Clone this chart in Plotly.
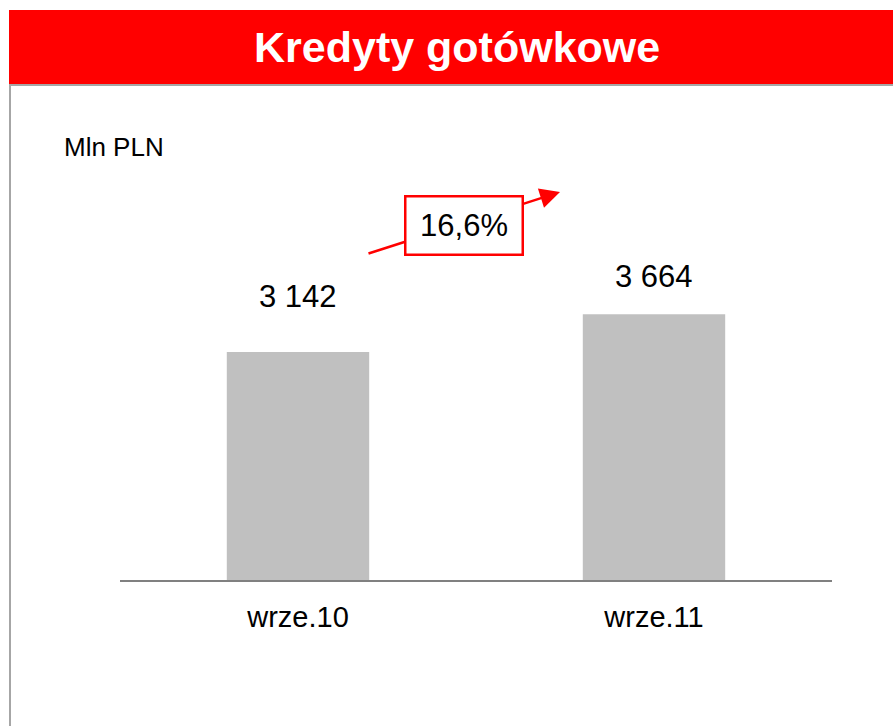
import plotly.graph_objects as go

# ---- data ----
categories = ["wrze.10", "wrze.11"]
values = [3142, 3664]
value_labels = ["3 142", "3 664"]
growth_label = "16,6%"
title_text = "Kredyty gotówkowe"
unit_text = "Mln PLN"

# ---- layout geometry (pixels) ----
W, H = 893, 726
L, R, T, B = 120, 61, 100, 146
PW, PH = W - L - R, H - T - B
FONT = "Liberation Sans, Arial, sans-serif"
label_offsets = [56, 38]  # px above bar tops


def px(x):
    return (x - L) / PW


def py(y):
    return (H - B - y) / PH


fig = go.Figure()
fig.add_trace(go.Bar(
    x=categories, y=values, marker=dict(color="#C0C0C0", line=dict(width=0)),
    width=0.4, hoverinfo="skip", showlegend=False,
))

annotations = []
# value labels
for c, v, lab, off in zip(categories, values, value_labels, label_offsets):
    annotations.append(dict(x=c, y=v, xref="x", yref="y", text=lab, showarrow=False,
                            yanchor="middle", yshift=off,
                            font=dict(family=FONT, size=31, color="#000000")))
# arrow
annotations.append(dict(x=px(560), y=py(192), xref="paper", yref="paper", text="",
                        showarrow=True, ax=367 - 560, ay=254 - 192, axref="pixel", ayref="pixel",
                        arrowhead=2, arrowsize=1.6, arrowwidth=2.5, arrowcolor="#FF0000",
                        standoff=0, startstandoff=0))
# growth box
annotations.append(dict(x=px(463.5), y=py(225), xref="paper", yref="paper", text=growth_label,
                        showarrow=False, xanchor="center", yanchor="middle",
                        width=115, height=56, borderpad=0, borderwidth=2.5,
                        bordercolor="#FF0000", bgcolor="#FFFFFF",
                        font=dict(family=FONT, size=31, color="#000000")))
# title
annotations.append(dict(x=px(457), y=py(47), xref="paper", yref="paper", text="<b>" + title_text + "</b>",
                        showarrow=False, xanchor="center", yanchor="middle",
                        font=dict(family=FONT, size=43, color="#FFFFFF")))
# unit
annotations.append(dict(x=px(62), y=py(147), xref="paper", yref="paper", text=unit_text,
                        showarrow=False, xanchor="left", yanchor="middle",
                        font=dict(family=FONT, size=26, color="#000000")))

shapes = [
    dict(type="rect", xref="paper", yref="paper", x0=px(9), x1=px(900), y0=py(84), y1=py(10),
         fillcolor="#FF0000", line=dict(width=0), layer="below"),
    dict(type="line", xref="paper", yref="paper", x0=px(9), x1=px(900), y0=py(85), y1=py(85),
         line=dict(color="#A6A6A6", width=2)),
    dict(type="line", xref="paper", yref="paper", x0=px(10), x1=px(10), y0=py(84), y1=py(730),
         line=dict(color="#A6A6A6", width=2)),
]

fig.update_layout(
    width=W, height=H, margin=dict(l=L, r=R, t=T, b=B, pad=0),
    paper_bgcolor="#FFFFFF", plot_bgcolor="#FFFFFF",
    annotations=annotations, shapes=shapes, bargap=0.6,
    xaxis=dict(range=[-0.5, 1.5], showline=True, linecolor="#808080", linewidth=2,
               showgrid=False, zeroline=False, ticks="", ticklabelstandoff=10,
               tickfont=dict(family=FONT, size=29, color="#000000"), fixedrange=True),
    yaxis=dict(range=[0, 6615], visible=False, showgrid=False, zeroline=False, fixedrange=True),
    showlegend=False,
)

fig.write_html("out.html", config={"displayModeBar": False},
               post_script="document.body.style.margin='0';")
